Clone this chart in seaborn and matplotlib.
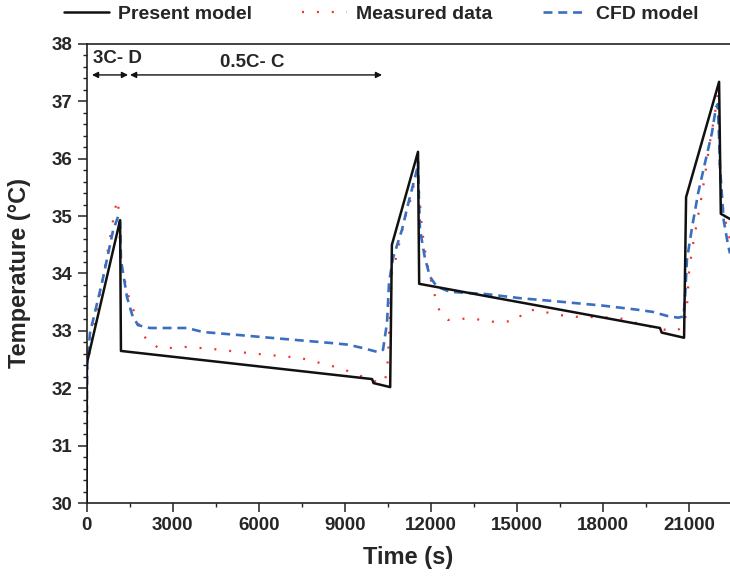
import numpy as np
import pandas as pd
import matplotlib
matplotlib.use("Agg")
import matplotlib.pyplot as plt
import seaborn as sns
from matplotlib.ticker import MultipleLocator

####################################################################################
## data
####################################################################################
t_present = [0, 15, 1170, 1200, 9950, 10000, 10580, 10640, 11550, 11590,
             19980, 20040, 20820, 20890, 22040, 22100, 22420]
T_present = [30.0, 32.44, 34.93, 32.65, 32.16, 32.09, 32.02, 34.50, 36.12, 33.82,
             33.05, 32.97, 32.88, 35.33, 37.34, 35.04, 34.95]

t_measured = [0, 20, 150, 580, 1000, 1100, 1200, 1450, 1790, 2100, 2560, 3430, 4300,
              5700, 7440, 8840, 9530, 10120, 10400, 10500, 10560, 10640, 10750, 11100,
              11340, 11510, 11560, 11690, 11860, 12110, 12320, 12600, 13360, 14160,
              14610, 15030, 15210, 15630, 16390, 17190, 17960, 18690, 19390, 19740,
              20150, 20570, 20820, 20920, 21000, 21130, 21270, 21410, 21550, 21720,
              21900, 22000, 22040, 22070, 22170, 22350, 22420]
T_measured = [30.0, 32.32, 32.76, 33.94, 35.14, 35.28, 34.18, 33.63, 33.14, 32.83, 32.69,
              32.72, 32.69, 32.61, 32.53, 32.35, 32.22, 32.11, 32.11, 32.49, 33.14, 34.01,
              34.2, 34.97, 35.37, 35.85, 35.6, 34.76, 34.18, 33.66, 33.31, 33.19, 33.22,
              33.16, 33.16, 33.19, 33.33, 33.37, 33.28, 33.24, 33.24, 33.21, 33.10, 33.07,
              33.02, 33.0, 33.10, 33.42, 34.08, 34.50, 34.9, 35.28, 35.72, 36.29, 36.8,
              37.15, 36.55, 35.68, 35.16, 34.7, 34.6]

t_cfd = [0, 20, 120, 540, 930, 1100, 1160, 1180, 1200, 1410, 1590, 1790, 2210, 2800,
         3500, 4060, 5250, 6390, 8490, 9110, 9630, 10160, 10330, 10470, 10540, 10680,
         10990, 11200, 11510, 11550, 11580, 11620, 11790, 11970, 12210, 12670, 13950,
         15100, 16250, 17990, 19170, 19740, 20230, 20610, 20800, 20850, 20920, 21100,
         21310, 21550, 21790, 21930, 21990, 22040, 22070, 22200, 22350, 22420]
T_cfd = [30.0, 32.37, 32.96, 33.84, 34.76, 34.99, 35.0, 34.71, 34.24, 33.59, 33.28, 33.10,
         33.05, 33.05, 33.05, 32.98, 32.93, 32.88, 32.79, 32.76, 32.70, 32.63, 32.67,
         33.14, 33.84, 34.27, 34.76, 35.2, 35.8, 35.95, 35.33, 34.76, 34.27, 33.94,
         33.77, 33.68, 33.64, 33.57, 33.52, 33.44, 33.37, 33.33, 33.26, 33.23, 33.25,
         33.54, 34.24, 34.81, 35.40, 35.93, 36.45, 36.89, 36.95, 36.38, 35.86, 34.93,
         34.50, 34.35]

series_names = ["Present model", "Measured data", "CFD model"]

####################################################################################
## plot
####################################################################################
sns.set_style("ticks")
plt.rcParams['font.family'] = ['Liberation Sans', 'DejaVu Sans']
plt.rcParams['font.weight'] = 'bold'
plt.rcParams['axes.labelweight'] = 'bold'

fig = plt.figure(figsize=(7.3, 5.76), dpi=100)
ax = fig.add_axes([0.1185, 0.1267, 0.8815, 0.797])

sns.lineplot(x=t_present, y=T_present, ax=ax, color="#111111", lw=1.8,
             label=series_names[0], sort=False, estimator=None)
sns.lineplot(x=t_measured, y=T_measured, ax=ax, color="#f03232", lw=1.6,
             label=series_names[1], sort=False, estimator=None)
sns.lineplot(x=t_cfd, y=T_cfd, ax=ax, color="#3a6fc0", lw=1.9,
             label=series_names[2], sort=False, estimator=None)

ax.lines[1].set_dashes((0.9, 5.8))
ax.lines[2].set_dashes((3.4, 2.2))
ax.lines[0].set_zorder(3)

ax.set_xlim(0, 22420)
ax.set_ylim(30, 38)
ax.xaxis.set_major_locator(MultipleLocator(3000))
ax.xaxis.set_minor_locator(MultipleLocator(1500))
ax.yaxis.set_major_locator(MultipleLocator(1))
ax.yaxis.set_minor_locator(MultipleLocator(0.2))
ax.tick_params(which='major', length=6.5, width=1.1, labelsize=13.5, pad=3.5, color='#222222')
ax.tick_params(which='minor', length=3.2, width=1.0, color='#222222')
for s in ['left', 'bottom', 'top']:
    ax.spines[s].set_linewidth(1.2)
    ax.spines[s].set_color('#222222')
ax.spines['right'].set_visible(False)

ax.set_xlabel("Time (s)", fontsize=17, labelpad=9)
ax.set_ylabel("Temperature (°C)", fontsize=17, labelpad=15)

# cycle annotations
arrow_kw = dict(arrowstyle='<|-|>', color='#111111', lw=1.0, mutation_scale=9,
                shrinkA=0, shrinkB=0)
ax.annotate('', xy=(190, 37.46), xytext=(1446, 37.46), arrowprops=arrow_kw)
ax.annotate('', xy=(1516, 37.46), xytext=(10296, 37.46), arrowprops=arrow_kw)
ax.text(1066, 37.75, "3C- D", ha='center', va='center', fontsize=13.5)
ax.text(5765, 37.68, "0.5C- C", ha='center', va='center', fontsize=13.5)

leg = ax.legend(loc='center', bbox_to_anchor=(0.5226, 0.9757), bbox_transform=fig.transFigure,
                ncol=3, frameon=False, fontsize=14, handlelength=2.3, handletextpad=0.45,
                columnspacing=2.6)

fig.savefig("out.png", dpi=100)
